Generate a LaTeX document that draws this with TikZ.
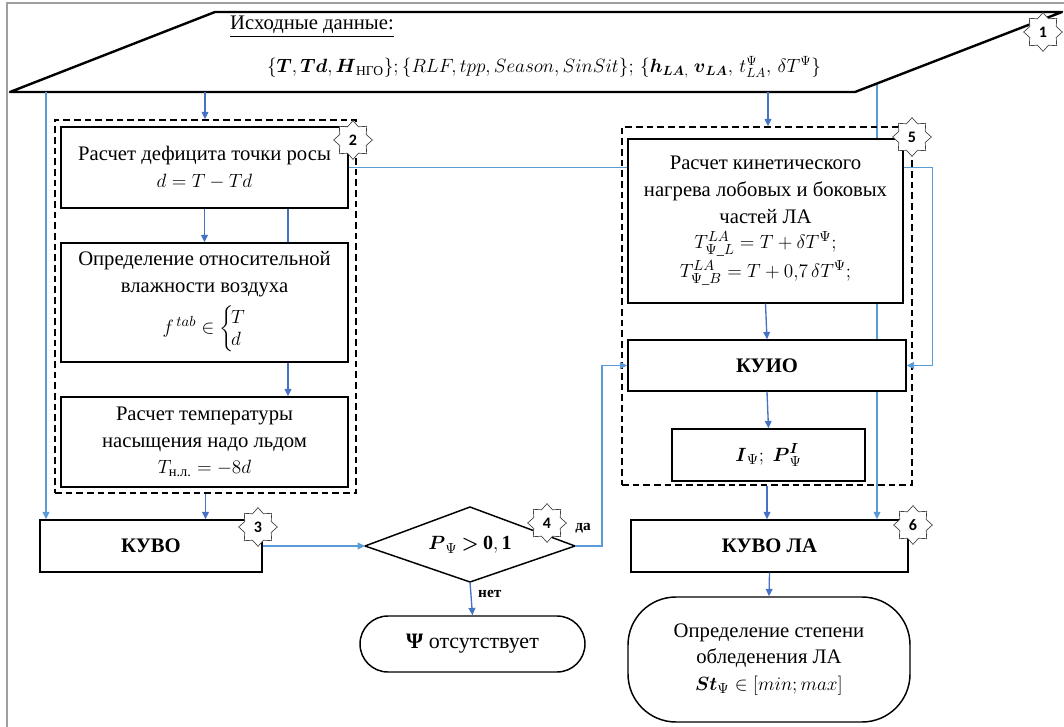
\documentclass[tikz,border=0pt]{standalone}
\usepackage{amsmath}
\usepackage{fontspec}
\setmainfont{Liberation Serif}
\newfontfamily\badgefont{Carlito}
\usetikzlibrary{shapes.geometric,arrows.meta,backgrounds,calc}
\definecolor{dblue}{HTML}{4472C4}
\definecolor{lblue}{HTML}{5B9BD5}
\begin{document}
\begin{tikzpicture}[x=0.75pt,y=-0.75pt,
  box/.style={draw, line width=1.1pt, fill=white, align=center, inner sep=2pt,
    font=\fontsize{15.5}{20}\selectfont},
  dbox/.style={draw, dash pattern=on 5pt off 3pt, line width=1.1pt, inner sep=0pt},
  badge/.style={star, star points=8, star point ratio=1.35, draw=black!75, fill=white,
    line width=0.5pt, minimum size=29pt, inner sep=0pt,
    font=\badgefont\bfseries\fontsize{12}{12}\selectfont},
  arr/.style={draw=dblue, line width=1pt, -{Triangle[length=5.5pt,width=5pt]}},
  larr/.style={arr, draw=lblue},
  ln/.style={draw=lblue, line width=1pt},
  lbl/.style={font=\bfseries\fontsize{11.5}{12}\selectfont, inner sep=1pt},
]
\useasboundingbox (0,0) rectangle (1064,727);
% outer frame
\draw[gray!75, line width=1.5pt] (7,727) -- (7,3) -- (1064,3);

% input parallelogram
\draw[line width=1.8pt, line join=round] (215,12) -- (1062,12) -- (855,92) -- (10,92) -- cycle;
\node[font=\fontsize{15.5}{18}\selectfont] (title) at (312,27) {\underline{Исходные данные:}};
\node[font=\fontsize{14.5}{18}\selectfont] (data) at (544,67)
  {$\{\boldsymbol{T},\boldsymbol{Td},\boldsymbol{H}_{\text{НГО}}\};\{RLF,tpp,Season,SinSit\};\,\{\boldsymbol{h}_{\boldsymbol{LA},}\;\boldsymbol{v}_{\boldsymbol{LA}},\,t^{\Psi}_{LA},\,\delta T^{\Psi}\}$};

\coordinate (p1) at (46,92);
\coordinate (p2) at (205,92);
\coordinate (p3) at (768,92);
\coordinate (p4) at (877,83.5);

% dashed groups
\node[dbox, minimum width=225.75pt, minimum height=279.75pt] (d2) at (205.5,306.5) {};
\node[dbox, minimum width=217.5pt, minimum height=268.5pt] (d5) at (767,306) {};

% left column
\node[box, minimum width=215.25pt, minimum height=60.75pt] (ba) at (204.5,167.5)
  {Расчет дефицита точки росы\\ $d = T - Td$};
\node[box, minimum width=215.25pt, minimum height=89.25pt] (bb) at (204.5,302.5)
  {Определение относительной\\влажности воздуха\\[5pt]
   $f^{\,tab} \in \left\{\!\begin{array}{@{}l@{}}T\\[-3pt] d\end{array}\right.$};
\node[box, minimum width=215.25pt, minimum height=67.5pt] (bc) at (204.5,442)
  {Расчет температуры\\насыщения надо льдом\\ $T_{\text{н.л.}} = -8d$};
\node[box, minimum width=166.5pt, minimum height=39pt, font=\bfseries\fontsize{15.5}{18}\selectfont] (kuvo) at (151,546) {КУВО};

% decision
\coordinate (dl) at (365,546);
\coordinate (dr) at (575,546);
\coordinate (dtop) at (470,507);
\coordinate (dbot) at (470,582);
\draw[line width=1.1pt, fill=white, line join=round] (dl) -- (dtop) -- (dr) -- (dbot) -- cycle;
\node[font=\fontsize{15}{18}\selectfont] (dtext) at (470,545) {$\boldsymbol{P}_{\Psi} \mathbin{\boldsymbol{>}} \mathbf{0,1}$};
\node[box, minimum width=168.75pt, minimum height=42pt, rounded corners=21pt, font=\fontsize{16.5}{18}\selectfont] (t1) at (472.5,644)
  {{\bfseries Ψ} отсутствует};

% right column
\node[box, minimum width=206.25pt, minimum height=123pt] (n5) at (765.5,221)
  {Расчет кинетического\\нагрева лобовых и боковых\\частей ЛА\\[-1pt]
   $T^{LA}_{\Psi\_L} = T + \delta T^{\Psi};$\\[2pt]
   $T^{LA}_{\Psi\_B} = T + 0{,}7\,\delta T^{\Psi};$};
\node[box, minimum width=208.5pt, minimum height=38.25pt, font=\bfseries\fontsize{15.5}{18}\selectfont] (kuio) at (767,365.5) {КУИО};
\node[box, minimum width=144.75pt, minimum height=39pt] (ib) at (768.5,455)
  {$\boldsymbol{I}_{\Psi};\; \boldsymbol{P}^{\boldsymbol{I}}_{\Psi}$};
\node[box, minimum width=207.75pt, minimum height=39pt, font=\bfseries\fontsize{15.5}{18}\selectfont] (kuvola) at (769.5,546) {КУВО ЛА};
\node[box, minimum width=211.5pt, minimum height=93.75pt, rounded corners=36pt] (t2) at (769,659.5)
  {Определение степени\\обледенения ЛА\\ $\boldsymbol{St}_{\Psi} \in [min; max]$};

% connectors passing behind boxes
\begin{scope}[on background layer]
  \coordinate (q) at ($(ba.south)+(83.5,0)$);
  \draw[arr] (q) -- (q |- bc.north);
  \draw[larr] (p4) -- (p4 |- kuvola.north);
\end{scope}

% connectors
\draw[larr] (p1) -- (p1 |- kuvo.north);
\draw[arr] (p2) -- (p2 |- d2.north);
\draw[arr] (p3) -- (p3 |- d5.north);
\draw[arr] (ba.south) -- (bb.north);
\draw[arr] (d2.south) -- (d2.south |- kuvo.north);
\draw[ln] (ba.east) -- (ba.east -| n5.west);
\coordinate (r1) at (ba.east -| n5.east);
\draw[larr] (r1) -- ++(29,0) |- (kuio.east);
\draw[larr] (kuvo.east) -- (dl);
\draw[larr] (dr) -- ++(27,0) |- (kuio.west);
\draw[arr] (dbot) -- node[lbl, right=4pt, pos=0.35] (no) {нет} (t1.north);
\node[lbl] (yes) at (583,528) {да};
\draw[arr] (n5.south) -- (kuio.north);
\draw[arr] (kuio.south) -- (ib.north);
\draw[arr] (d5.south) -- (d5.south |- kuvola.north);
\draw[arr] (kuvola.south) -- (t2.north);

% badges
\node[badge] (s1) at (1043,32) {1};
\node[badge] (s2) at (353,140) {2};
\node[badge] (s3) at (258,527) {3};
\node[badge] (s4) at (547,523) {4};
\node[badge] (s5) at (912,137) {5};
\node[badge] (s6) at (913,525) {6};
\end{tikzpicture}
\end{document}
